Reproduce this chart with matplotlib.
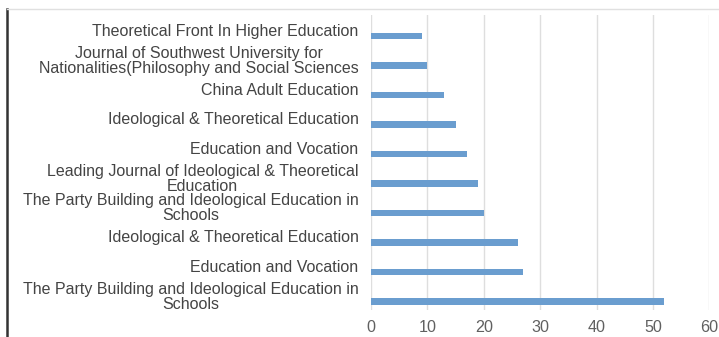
import matplotlib.pyplot as plt
from matplotlib.lines import Line2D

journals = [
    'Theoretical Front In Higher Education',
    'Journal of Southwest University for\nNationalities(Philosophy and Social Sciences',
    'China Adult Education',
    'Ideological & Theoretical Education',
    'Education and Vocation',
    'Leading Journal of Ideological & Theoretical\nEducation',
    'The Party Building and Ideological Education in\nSchools',
    'Ideological & Theoretical Education',
    'Education and Vocation',
    'The Party Building and Ideological Education in\nSchools',
]
counts = [9, 10, 13, 15, 17, 19, 20, 26, 27, 52]
xticks = [0, 10, 20, 30, 40, 50, 60]

plt.rcParams['font.family'] = ['Liberation Sans', 'DejaVu Sans']

fig = plt.figure(figsize=(7.19, 3.37), dpi=100)
ax = fig.add_axes([0.516, 0.080, 0.4705, 0.8755])

pos = list(range(len(journals)))
ax.barh([p + 0.21 for p in pos], counts, height=0.21, color='#6A9DCF', zorder=3)

ax.set_ylim(len(journals) - 0.5, -0.5)
ax.set_xlim(0, 60)
ax.set_yticks(pos)
ax.set_yticklabels(journals, fontsize=11.5, color='#444444')
for t in ax.get_yticklabels():
    t.set_multialignment('center')
    t.set_linespacing(0.98)
ax.set_xticks(xticks)
ax.set_xticklabels([str(v) for v in xticks], fontsize=11.6, color='#606060')
ax.tick_params(axis='y', length=0, pad=9)
ax.tick_params(axis='x', length=0, pad=7)

ax.grid(axis='x', color='#DEDEDE', linewidth=1.0, zorder=0)
for s in ax.spines.values():
    s.set_visible(False)

# frame pieces from the original screenshot
fig.add_artist(Line2D([7 / 719, 7 / 719], [0, 1 - 9 / 337], color='#333333', linewidth=1.8))
fig.add_artist(Line2D([7 / 719, 1], [1 - 9 / 337, 1 - 9 / 337], color='#E0E0E0', linewidth=1))

fig.savefig('out.png', dpi=100)
